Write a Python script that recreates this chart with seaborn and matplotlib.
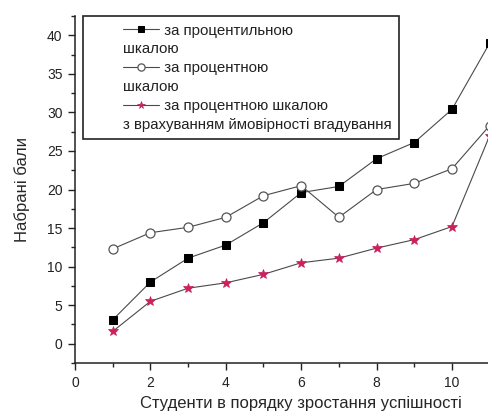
import numpy as np
import matplotlib
matplotlib.use('Agg')
import matplotlib.pyplot as plt
import seaborn as sns
from matplotlib.lines import Line2D
from matplotlib.legend_handler import HandlerLine2D
from matplotlib.ticker import MultipleLocator

# Data
students = [1, 2, 3, 4, 5, 6, 7, 8, 9, 10, 11]
percentile = [3.1, 8.0, 11.1, 12.8, 15.7, 19.6, 20.4, 24.0, 26.1, 30.4, 39.0]
percent = [12.3, 14.4, 15.1, 16.4, 19.2, 20.5, 16.4, 20.0, 20.8, 22.7, 28.3]
percent_guess = [1.6, 5.5, 7.2, 7.9, 9.0, 10.5, 11.1, 12.4, 13.5, 15.2, 27.0]

labels = ['за процентильною', 'за процентною', 'за процентною шкалою']
label_tails = ['шкалою', 'шкалою', 'з врахуванням ймовірності вгадування']

xlabel = 'Студенти в порядку зростання успішності'
ylabel = 'Набрані бали'
xticks = [0, 2, 4, 6, 8, 10]

sns.set_style('ticks')
plt.rcParams['font.family'] = ['Liberation Sans', 'DejaVu Sans']
plt.rcParams['text.color'] = '#222222'

fig = plt.figure(figsize=(4.88, 4.15), dpi=100)
# axes run past the right edge of the picture, like the cropped original
ax = fig.add_axes([0.1537, 0.1253, 0.927, 0.836])

line_col = '#4a4a4a'
sns.lineplot(x=students, y=percentile, ax=ax, color=line_col, lw=0.8,
             marker='s', markersize=6, markerfacecolor='black',
             markeredgecolor='black', label=labels[0], clip_on=False)
sns.lineplot(x=students, y=percent, ax=ax, color=line_col, lw=0.8,
             marker='o', markersize=6.5, markerfacecolor='white',
             markeredgecolor='#555555', markeredgewidth=0.9,
             label=labels[1], clip_on=False)
sns.lineplot(x=students, y=percent_guess, ax=ax, color=line_col, lw=0.8,
             marker='*', markersize=7, markerfacecolor='#d0205a',
             markeredgecolor='#c02060', markeredgewidth=0.5,
             label=labels[2], clip_on=False)

ax.set_xlim(0, 12)
ax.set_ylim(-2.5, 42.5)
ax.set_xticks(xticks)
ax.set_xticks(range(1, 12, 2), minor=True)
ax.yaxis.set_major_locator(MultipleLocator(5))
ax.yaxis.set_minor_locator(MultipleLocator(2.5))
ax.tick_params(which='major', direction='out', length=5, width=1,
               labelsize=10, colors='#222222', pad=4)
ax.tick_params(which='minor', direction='out', length=3, width=1,
               colors='#222222')
for s in ['top', 'right']:
    ax.spines[s].set_visible(False)
for s in ['left', 'bottom']:
    ax.spines[s].set_color('#222222')
    ax.spines[s].set_linewidth(1.1)

ax.set_xlabel(xlabel, fontsize=12)
ax.set_ylabel(ylabel, fontsize=12)
ax.xaxis.set_label_coords(0.5, -0.095)
ax.yaxis.set_label_coords(-0.10, 0.5)

# Origin-like legend: handle on first line, wrapped text under the handle
h, l = ax.get_legend_handles_labels()
blank = Line2D([], [], linestyle='none')
pad = ' ' * 10
handles, texts = [], []
for hh, first, tail in zip(h, labels, label_tails):
    handles += [hh, blank]
    texts += [pad + first, tail]
leg = ax.legend(handles, texts, loc='upper left',
                bbox_to_anchor=((83 - 75) / 452, 1.0), borderaxespad=0,
                fontsize=10.8, frameon=True, fancybox=False, framealpha=1,
                edgecolor='#222222', borderpad=0.5, handlelength=4.57,
                handletextpad=-2.4, labelspacing=0.32, numpoints=1,
                markerscale=0.8,
                handler_map={Line2D: HandlerLine2D(xpad=2.17)})
leg.get_frame().set_linewidth(1.2)

fig.savefig('out.png', dpi=100)
